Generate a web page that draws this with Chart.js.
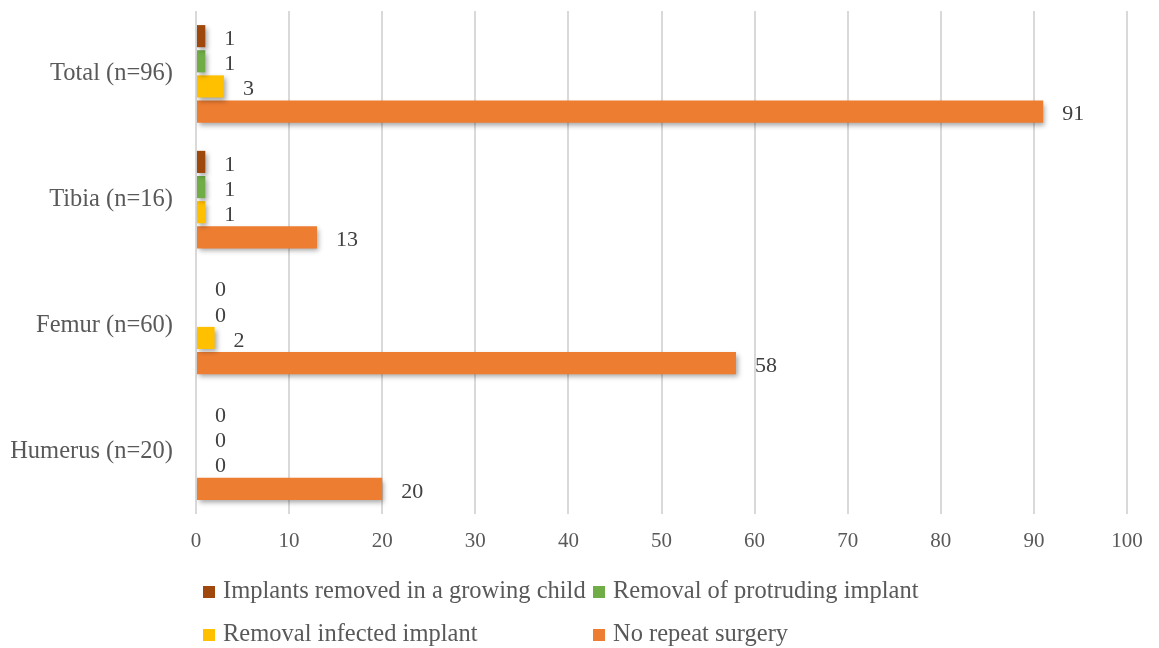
<!DOCTYPE html>
<html>
<head>
<meta charset="utf-8">
<script src="https://cdn.jsdelivr.net/npm/chart.js@4"></script>
<style>
  html, body { margin: 0; padding: 0; background: #fff; }
  #wrap { width: 1159px; height: 648px; }
</style>
</head>
<body>
<div id="wrap"><canvas id="chart" width="1159" height="648"></canvas></div>
<script>
// categories, top to bottom
var categories = ['Total (n=96)', 'Tibia (n=16)', 'Femur (n=60)', 'Humerus (n=20)'];
// series
var seriesNames = ['Implants removed in a growing child', 'Removal of protruding implant', 'Removal infected implant', 'No repeat surgery'];
var grownChild = [1, 1, 0, 0];
var protruding = [1, 1, 0, 0];
var infected = [3, 1, 2, 0];
var noRepeat = [91, 13, 58, 20];
var colors = ['#9E480E', '#70AD47', '#FFC000', '#ED7D31'];
var xTicks = [0, 10, 20, 30, 40, 50, 60, 70, 80, 90, 100];

var FONT = '"Liberation Serif", "Times New Roman", serif';

// soft drop shadow under bars
var shadowPlugin = {
  id: 'barShadow',
  beforeDatasetsDraw: function (chart) {
    var ctx = chart.ctx;
    ctx.save();
    ctx.shadowColor = 'rgba(0,0,0,0.35)';
    ctx.shadowBlur = 5;
    ctx.shadowOffsetX = 2;
    ctx.shadowOffsetY = 3;
  },
  afterDatasetsDraw: function (chart) {
    chart.ctx.restore();
  }
};

// value labels to the right of each bar
var valueLabels = {
  id: 'valueLabels',
  afterDatasetsDraw: function (chart) {
    var ctx = chart.ctx;
    ctx.save();
    ctx.font = '22px ' + FONT;
    ctx.fillStyle = '#404040';
    ctx.textAlign = 'left';
    ctx.textBaseline = 'middle';
    chart.data.datasets.forEach(function (ds, i) {
      chart.getDatasetMeta(i).data.forEach(function (bar, j) {
        ctx.fillText(String(ds.data[j]), bar.x + 19, bar.y + 3);
      });
    });
    ctx.restore();
  }
};

// two-column legend under the plot
var gridLegend = {
  id: 'gridLegend',
  afterDraw: function (chart) {
    var ctx = chart.ctx;
    var cols = [203, 593];
    var rows = [598, 641];
    ctx.save();
    ctx.font = '24.5px ' + FONT;
    ctx.textBaseline = 'alphabetic';
    ctx.textAlign = 'left';
    chart.data.datasets.forEach(function (ds, i) {
      var x = cols[i % 2];
      var y = rows[Math.floor(i / 2)];
      ctx.fillStyle = ds.backgroundColor;
      ctx.fillRect(x, y - 12, 12, 12);
      ctx.fillStyle = '#595959';
      ctx.fillText(ds.label, x + 20, y);
    });
    ctx.restore();
  }
};

var seriesData = [grownChild, protruding, infected, noRepeat];

var chart = new Chart(document.getElementById('chart'), {
  type: 'bar',
  data: {
    labels: categories,
    datasets: seriesNames.map(function (name, i) {
      return {
        label: name,
        data: seriesData[i],
        backgroundColor: colors[i],
        borderWidth: 0,
        categoryPercentage: 0.8,
        barPercentage: 0.88
      };
    })
  },
  options: {
    indexAxis: 'y',
    responsive: false,
    animation: false,
    layout: { padding: { top: 11, right: 32, bottom: 94, left: 0 } },
    plugins: {
      legend: { display: false },
      tooltip: { enabled: false }
    },
    scales: {
      x: {
        min: 0,
        max: 100,
        afterBuildTicks: function (scale) {
          scale.ticks = xTicks.map(function (v) { return { value: v }; });
        },
        afterFit: function (scale) { scale.height = 40; },
        grid: { color: '#d9d9d9', lineWidth: 2, drawTicks: false },
        border: { display: false },
        ticks: {
          padding: 15,
          color: '#595959',
          font: { family: FONT, size: 21 }
        }
      },
      y: {
        afterFit: function (scale) {
          scale.width = 196;
          scale.paddingTop = 0;
          scale.paddingBottom = 0;
        },
        grid: { display: false },
        border: { display: false },
        ticks: {
          padding: 15,
          color: '#595959',
          font: { family: FONT, size: 24.5 }
        }
      }
    }
  },
  plugins: [shadowPlugin, valueLabels, gridLegend]
});
</script>
</body>
</html>
